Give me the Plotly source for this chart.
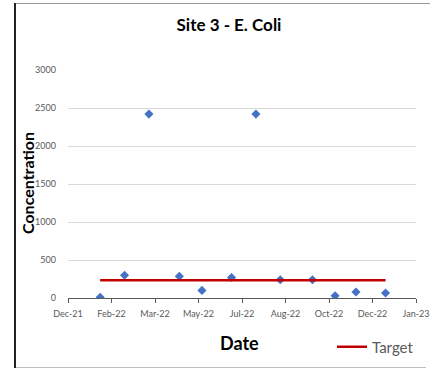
import plotly.graph_objects as go

dates = ["2022-01-26", "2022-02-23", "2022-03-23", "2022-04-27", "2022-05-23", "2022-06-26",
         "2022-07-24", "2022-08-21", "2022-09-27", "2022-10-23", "2022-11-16", "2022-12-20"]
conc = [10, 300, 2420, 285, 100, 270, 2420, 240, 240, 30, 78, 65]
target_dates = ["2022-01-26", "2022-12-20"]
target_vals = [235, 235]

W, H = 430, 369
L, R, T, B = 68, 14, 70, 71
pw, ph = W - L - R, H - T - B

def px(x):
    return (x - L) / pw

def py(y):
    return (H - B - y) / ph

font = "Lato, Open Sans, sans-serif"

fig = go.Figure()
fig.add_trace(go.Scatter(x=dates, y=conc, mode="markers", name="Concentration",
                         marker=dict(symbol="diamond", size=7, color="#4472C4"),
                         showlegend=False))
fig.add_trace(go.Scatter(x=target_dates, y=target_vals, mode="lines", name="Target",
                         line=dict(color="#C00000", width=2.5)))

fig.update_layout(
    width=W, height=H, margin=dict(l=L, r=R, t=T, b=B, autoexpand=False),
    paper_bgcolor="white", plot_bgcolor="white",
    font=dict(family=font, color="#595959", size=9),
    title=dict(text="<b>Site 3 - E. Coli</b>", x=229 / W, xanchor="center",
               y=1 - 25 / H, yanchor="middle", font=dict(size=17, color="black", family=font)),
    xaxis=dict(type="date", range=["2021-12-20", "2023-01-24"], tick0="2021-12-20",
               dtick=50 * 86400000, tickformat="%b-%y", showgrid=False,
               showline=True, linecolor="#595959", linewidth=1,
               ticks="outside", ticklen=4, tickcolor="#595959",
               tickfont=dict(size=9, color="#595959"), zeroline=False,
               ticklabelstandoff=3),
    yaxis=dict(range=[0, 3000], dtick=500, showgrid=True, gridcolor="#D9D9D9",
               zeroline=False, showline=False, tickfont=dict(size=9, color="#595959"),
               ticks="", ticklabelstandoff=11),
    legend=dict(x=px(332), y=py(347), xanchor="left", yanchor="middle",
                font=dict(size=15, color="#595959", family=font), bgcolor="rgba(0,0,0,0)",
                itemwidth=30),
    annotations=[
        dict(text="<b>Concentration</b>", x=px(27), y=py(183), xref="paper", yref="paper",
             xanchor="center", yanchor="middle",
             textangle=-90, showarrow=False, font=dict(size=16, color="black", family=font)),
        dict(text="<b>Date</b>", x=px(239), y=py(343), xref="paper", yref="paper",
             xanchor="center", yanchor="middle",
             showarrow=False, font=dict(size=18, color="black", family=font)),
    ],
    shapes=[
        dict(type="line", xref="paper", yref="paper", x0=px(14), x1=px(432),
             y0=py(3.5), y1=py(3.5), line=dict(color="#9A9A9A", width=1)),
        dict(type="line", xref="paper", yref="paper", x0=px(14), x1=px(426),
             y0=py(367.5), y1=py(367.5), line=dict(color="#BFBFBF", width=1)),
        dict(type="line", xref="paper", yref="paper", x0=px(15), x1=px(15),
             y0=py(368), y1=py(3), line=dict(color="#222222", width=2)),
    ],
)

fig.write_html("out.html", config={"displayModeBar": False},
               post_script="document.body.style.margin='0';document.body.style.overflow='hidden';")
